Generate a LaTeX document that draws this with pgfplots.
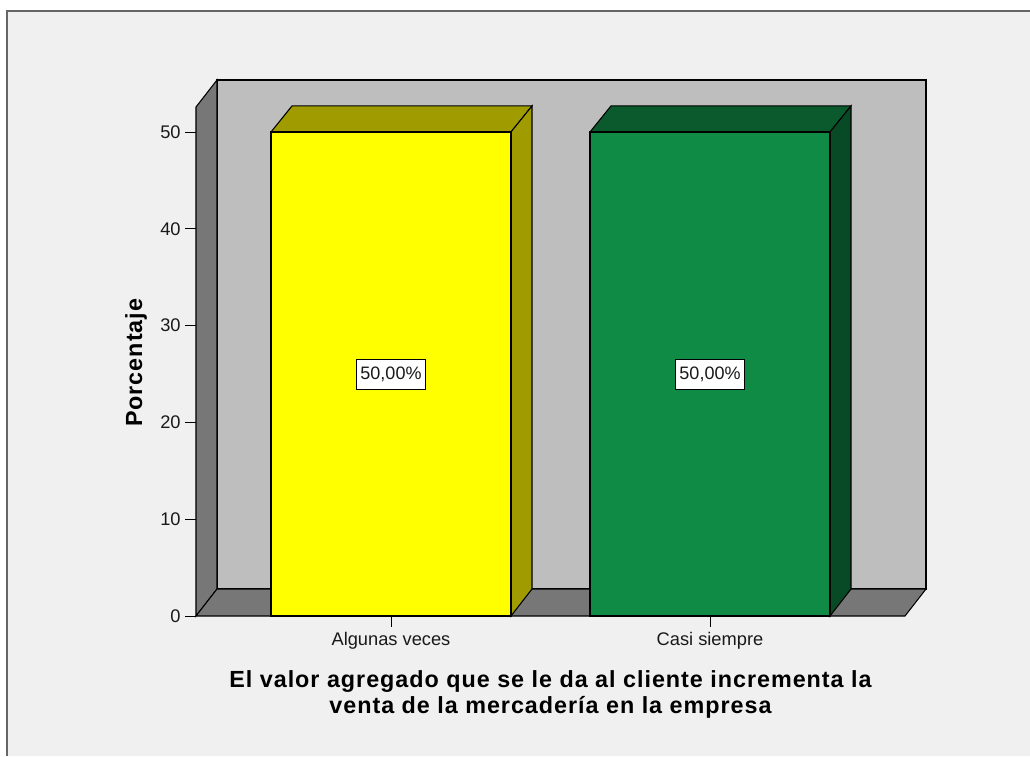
\documentclass[border=0pt]{standalone}
\usepackage{fontspec}
\setmainfont{Liberation Sans}
\newfontfamily\spaced[LetterSpace=4.2]{Liberation Sans}
\usepackage{pgfplots}
\pgfplotsset{compat=1.18}
\definecolor{pagebg}{HTML}{F0F0F0}
\definecolor{frameline}{HTML}{666666}
\definecolor{wall}{HTML}{BEBEBE}
\definecolor{floorc}{HTML}{777777}
\definecolor{yfront}{HTML}{FFFF00}
\definecolor{ydark}{HTML}{A09C00}
\definecolor{gfront}{HTML}{0F8B46}
\definecolor{gtop}{HTML}{0A5A2D}
\definecolor{gside}{HTML}{084A26}

\begin{document}
\begin{tikzpicture}[x=0.75pt,y=0.75pt]
% page: 1030x756 px, axis corner sits at px (196,616)
\useasboundingbox (-196,-140) rectangle (834,616);
\fill[white] (-196,-140) rectangle (834,616);
\fill[pagebg] (-189,-140) rectangle (834,605);
\draw[frameline,line width=1.5pt] (-189,-140) -- (-189,605) -- (834,605);
\begin{axis}[
    width=547.5pt, height=402pt,
    scale only axis,
    xmin=196, xmax=926,
    ymin=0, ymax=55.37,
    clip=false,
    axis line style={draw=none},
    tick align=outside,
    tick pos=left,
    major tick length=8pt,
    tick style={black,line width=0.7pt},
    xtick={391,710},
    xticklabels={Algunas veces,Casi siempre},
    ytick={0,10,20,30,40,50},
    /pgf/number format/assume math mode=true,
    tick label style={font=\fontsize{13.7}{16}\selectfont,text=black!90},
    xticklabel style={yshift=-0.5pt},
    ylabel={\spaced\bfseries Porcentaje},
    ylabel style={font=\fontsize{17.5}{19}\selectfont,at={(axis cs:136,26.15)},anchor=center,rotate=0},
    xlabel={\spaced\bfseries El valor agregado que se le da al cliente incrementa la\\\spaced\bfseries venta de la mercadería en la empresa},
    xlabel style={font=\fontsize{17.5}{19.5}\selectfont,align=center,at={(axis cs:550.5,-8.07)},anchor=center},
]
% walls and floor
\addplot[fill=wall,draw=black,line width=0.8pt] coordinates {(217,2.79) (926,2.79) (926,55.37) (217,55.37)} -- cycle;
\addplot[fill=floorc,draw=black,line width=0.8pt] coordinates {(196,0) (217,2.79) (217,55.37) (196,52.58)} -- cycle;
\addplot[fill=floorc,draw=black,line width=0.8pt] coordinates {(196,0) (905,0) (926,2.79) (217,2.79)} -- cycle;
% first bar
\addplot[fill=ydark,draw=black,line width=0.8pt] coordinates {(271,50) (511,50) (532,52.69) (292,52.69)} -- cycle;
\addplot[fill=ydark,draw=black,line width=0.8pt] coordinates {(511,0) (532,2.79) (532,52.69) (511,50)} -- cycle;
\addplot[ybar,bar width=180pt,bar shift=0pt,fill=yfront,draw=black,line width=0.8pt] coordinates {(391,50)};
% second bar
\addplot[fill=gtop,draw=black,line width=0.8pt] coordinates {(590,50) (830,50) (851,52.69) (611,52.69)} -- cycle;
\addplot[fill=gside,draw=black,line width=0.8pt] coordinates {(830,0) (851,2.79) (851,52.69) (830,50)} -- cycle;
\addplot[ybar,bar width=180pt,bar shift=0pt,fill=gfront,draw=black,line width=0.8pt] coordinates {(710,50)};
% value labels
\node[draw=black,fill=white,line width=0.8pt,inner sep=0pt,minimum width=52pt,minimum height=22pt,font=\fontsize{13.5}{15}\selectfont,text=black!90] at (axis cs:391,24.95) {50,00\%};
\node[draw=black,fill=white,line width=0.8pt,inner sep=0pt,minimum width=52pt,minimum height=22pt,font=\fontsize{13.5}{15}\selectfont,text=black!90] at (axis cs:710,24.95) {50,00\%};
\end{axis}
\end{tikzpicture}
\end{document}
